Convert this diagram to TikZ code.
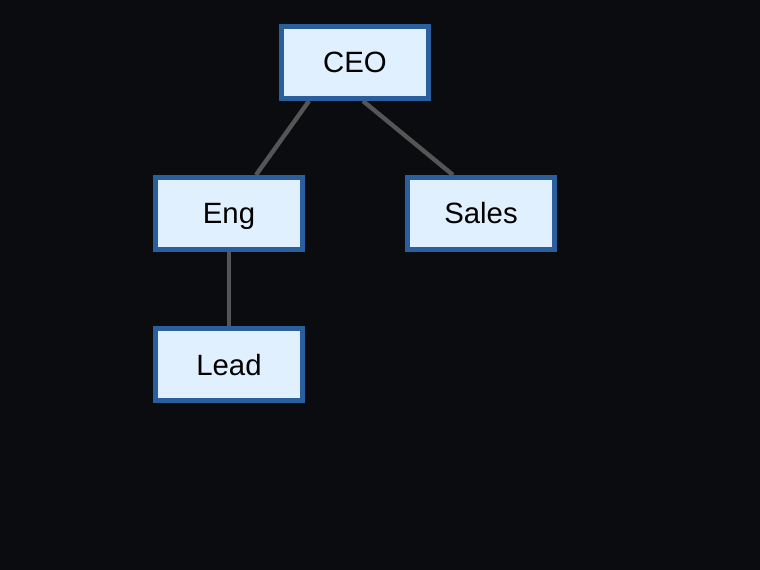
\documentclass[tikz,border=0pt]{standalone}
\usepackage{fontspec}
\setmainfont{Liberation Sans}
\definecolor{bgc}{HTML}{0B0C10}
\definecolor{boxfill}{HTML}{E0F0FE}
\definecolor{boxline}{HTML}{2A5E9C}
\definecolor{edgec}{HTML}{555555}
\begin{document}
\begin{tikzpicture}[x=0.75pt,y=-0.75pt,
  orgbox/.style={draw=boxline,fill=boxfill,line width=3.75pt,minimum width=110.25pt,minimum height=54pt,inner sep=0pt,font=\fontsize{22}{24}\selectfont,text height=15.75pt,text depth=0pt,text=black},
  orgedge/.style={draw=edgec,line width=3.3pt}]
\fill[bgc] (0,0) rectangle (760,570);
\useasboundingbox (0,0) rectangle (760,570);
\node[orgbox] (ceo) at (355,62.5) {CEO};
\node[orgbox] (eng) at (229,213.5) {Eng};
\node[orgbox] (sales) at (481,213.5) {Sales};
\node[orgbox] (lead) at (229,364.5) {Lead};
\draw[orgedge] ([xshift=-34.5pt]ceo.south) -- ([xshift=20.25pt]eng.north);
\draw[orgedge] ([xshift=6pt]ceo.south) -- ([xshift=-21pt]sales.north);
\draw[orgedge] (eng.south) -- (lead.north);
\end{tikzpicture}
\end{document}
